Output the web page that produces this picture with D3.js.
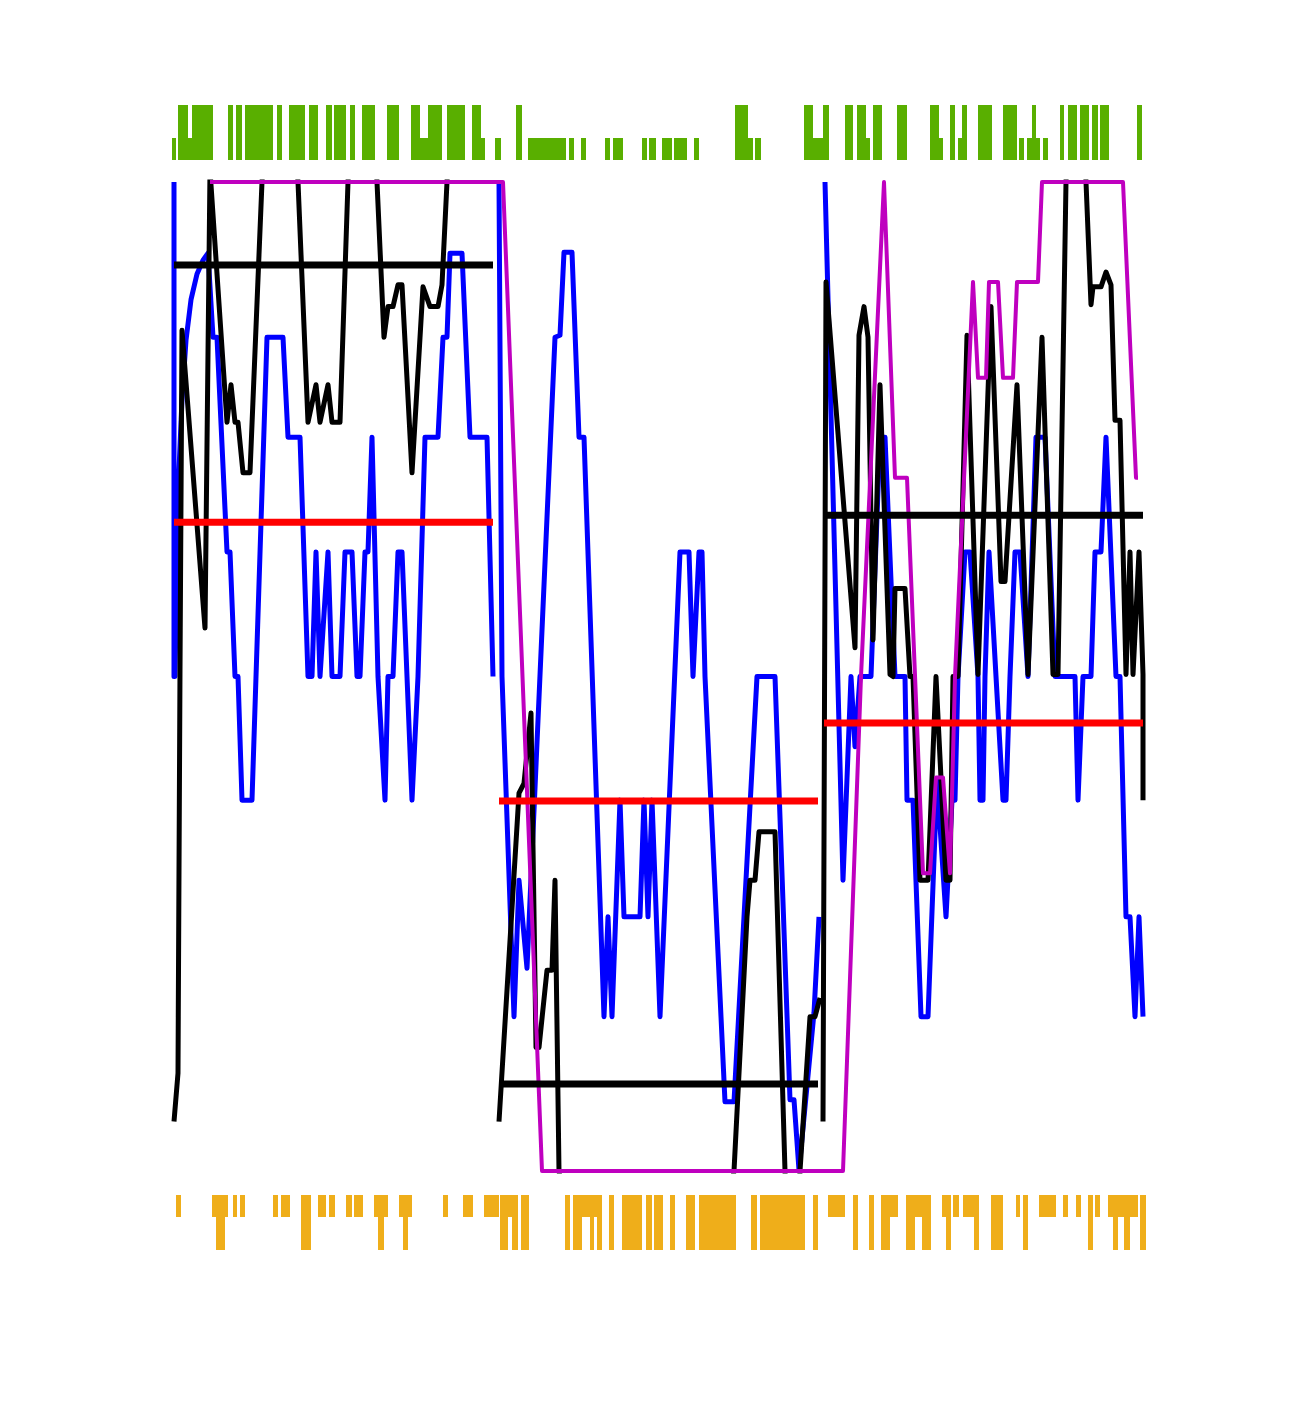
<!DOCTYPE html>
<html><head><meta charset="utf-8">
<script src="https://cdn.jsdelivr.net/npm/d3@7"></script>
<style>html,body{margin:0;padding:0;background:#fff;}</style>
</head><body>
<script>
// time (x) units along the record; y values in percent
const blueSeg1 = [[0,100],[0,50],[1,50],[3,61.8],[5,70.9],[8,78.0],[12,84.0],[17,88.1],[23,90.7],[29,92.1],[34,92.8],[39,84.3],[43,84.3],[53,62.6],[56,62.6],[61,50],[64,50],[68,37.5],[78,37.5],[93,84.3],[109,84.3],[114,74.2],[126,74.2],[134,50],[138,50],[142,62.6],[146,50],[154,62.6],[158,50],[166,50],[171,62.6],[178,62.6],[183,50],[186,50],[191,62.6],[194,62.6],[198,74.2],[204,50],[211,37.5],[214,50],[219,50],[224,62.6],[228,62.6],[233,50],[238,37.5],[244,50],[251,74.2],[264,74.2],[269,84.3],[273,84.3],[276,92.8],[288,92.8],[296,74.2],[313,74.2],[319,50]];
const blueSeg2 = [[325,100],[328,50],[340,15.6],[345,29.4],[353,20.5],[381,84.3],[386,84.5],[390,92.9],[398,92.9],[405,74.2],[410,74.2],[430,15.6],[434,25.7],[438,15.6],[446,37.5],[450,25.7],[466,25.7],[470,37.5],[474,25.7],[478,37.5],[486,15.6],[506,62.6],[515,62.6],[519,50],[525,62.6],[528,62.6],[531,50],[551,7.0],[560,7.0],[583,50],[601,50],[616,7.2],[620,7.2],[625,0.1],[640,16.0],[645,25.7]];
const blueSeg3 = [[651,100],[669,29.4],[677,50],[681,42.9],[686,50],[697,50],[706,74.2],[711,74.2],[721,50],[731,50],[733,37.5],[739,37.5],[747,15.6],[754,15.6],[763,39.5],[772,25.7],[778,37.5],[781,37.5],[784,50],[791,62.6],[796,62.6],[804,50],[806,37.5],[809,37.5],[811,50],[815,62.6],[822,50],[829,37.5],[832,37.5],[836,50],[841,62.6],[846,62.6],[854,50],[862,74.2],[871,74.2],[881,50],[901,50],[904,37.5],[909,50],[917,50],[921,62.6],[927,62.6],[932,74.2],[942,50],[946,50],[952,25.7],[956,25.7],[961,15.6],[965,25.7],[969,15.6]];

const blackSeg1 = [[0,5.0],[4,9.9],[6,50.7],[8,85.0],[31,54.9],[36,101.2],[53,75.7],[57,79.5],[61,75.7],[64,75.7],[69,70.6],[76,70.6],[88,100],[106,130],[124,100],[134,75.7],[142,79.5],[146,75.7],[154,79.5],[158,75.7],[166,75.7],[174,100],[188,130],[203,100],[210,84.3],[214,87.4],[219,87.4],[224,89.6],[228,89.6],[238,70.6],[249,89.4],[256,87.4],[264,87.4],[268,89.6],[273,100],[286,130]];
const blackSeg2 = [[325,5.0],[345,38.2],[350,39.2],[357,46.3],[362,12.5],[365,12.5],[373,20.3],[378,20.3],[381,29.4],[385,0],[470,-60],[560,0],[573,25.7],[576,29.4],[581,29.4],[585,34.3],[601,34.3],[611,0],[618,-20],[626,0],[636,15.6],[641,15.6],[646,17.5]];
const blackSeg3 = [[649,5.0],[652,89.9],[681,52.9],[685,84.5],[690,87.4],[694,84.3],[699,53.7],[706,79.5],[716,50.2],[719,50],[721,58.9],[731,58.9],[736,50],[739,50],[746,29.4],[754,29.4],[762,50],[772,29.4],[776,29.4],[779,50],[784,50],[793,84.5],[804,50.2],[817,87.4],[827,59.6],[831,59.6],[843,79.5],[854,50.2],[868,84.3],[879,50.2],[884,50.2],[892,100],[902,130],[912,100],[917,87.6],[919,89.4],[927,89.4],[932,90.9],[937,89.6],[941,75.9],[946,75.9],[952,50.2],[956,62.6],[959,50.2],[965,62.6],[969,50.2],[969,37.5]];

const magentaLine = [[36,100],[329,100],[368,0],[669,0],[687,50],[710,100],[721,70.1],[733,70.1],[749,30.1],[756,30.1],[762,39.8],[769,39.8],[776,30.1],[781,50],[799,89.9],[804,80.2],[812,80.2],[815,89.9],[824,89.9],[829,80.2],[839,80.2],[843,89.9],[864,89.9],[868,100],[949,100],[962,70.1],[964,70.1]];

// per-segment reference levels: [start, end, value]
const redLevels = [[0,319,65.6],[325,644,37.4],[650,969,45.3]];
const blackLevels = [[0,319,91.6],[325,644,8.8],[650,969,66.3]];

// event rugs: [start, end, level] (2 = partial, 5 = full)
const greenRug = [[-2,2,2],[4,14,5],[14,18,2],[18,39,5],[54,59,5],[62,68,5],[71,99,5],[103,108,5],[115,131,5],[135,144,5],[152,158,5],[160,172,5],[176,181,5],[188,201,5],[213,225,5],[237,246,5],[246,254,2],[254,268,5],[273,291,5],[298,307,5],[307,311,2],[321,327,2],[342,348,5],[354,392,2],[395,400,2],[407,412,2],[431,436,2],[439,449,2],[468,473,2],[475,482,2],[488,498,2],[500,513,2],[520,525,2],[561,574,5],[574,579,2],[581,587,2],[630,639,5],[639,649,2],[649,655,5],[671,679,5],[683,692,5],[692,696,2],[699,708,5],[723,733,5],[756,765,5],[765,769,2],[776,781,5],[784,788,2],[788,793,5],[804,818,5],[829,843,5],[845,850,2],[853,858,2],[858,862,5],[862,866,2],[869,874,2],[886,890,5],[894,903,5],[906,915,5],[918,924,5],[926,935,5],[963,968,5]];
const orangeRug = [[2,7,2],[38,42,2],[42,51,5],[51,54,2],[59,63,2],[66,71,2],[99,104,2],[107,116,2],[127,137,5],[144,152,2],[155,161,2],[172,178,2],[180,189,2],[200,204,2],[204,210,5],[210,214,2],[225,229,2],[229,234,5],[234,238,2],[269,274,2],[289,299,2],[310,325,2],[326,334,5],[334,338,2],[338,344,5],[347,355,5],[391,396,5],[399,408,5],[408,416,2],[416,420,5],[420,423,2],[423,428,5],[435,440,5],[448,468,5],[472,478,5],[480,489,5],[496,501,5],[512,521,5],[525,562,5],[577,583,5],[586,631,5],[639,644,5],[654,671,2],[679,684,5],[695,700,5],[707,716,5],[716,724,2],[732,741,5],[741,748,2],[748,757,5],[768,772,2],[772,777,5],[779,785,2],[789,800,2],[800,805,5],[817,829,5],[842,846,2],[849,854,5],[865,882,2],[889,894,2],[902,907,2],[914,919,5],[921,926,2],[934,939,2],[939,944,5],[944,950,2],[950,956,5],[956,964,2],[966,972,5]];

const W = 1308, H = 1403;
const x = d3.scaleLinear().domain([0, 969]).range([174, 1143]);
const y = d3.scaleLinear().domain([0, 100]).range([1171, 182]);
const rugH = d3.scaleLinear().domain([0, 5]).range([0, 55]);

const svg = d3.select("body").append("svg").attr("width", W).attr("height", H)
  .style("display","block").style("background","#fff");

svg.append("defs").append("clipPath").attr("id","plotclip")
  .append("rect").attr("x", 150).attr("y", y(100) - 2.5).attr("width", 1010).attr("height", y(0) - y(100) + 5);

const line = d3.line().x(d => x(d[0])).y(d => y(d[1]));
const g = svg.append("g").attr("clip-path","url(#plotclip)");

function drawLine(data, color, width){
  g.append("path").datum(data).attr("d", line)
    .attr("fill","none").attr("stroke",color).attr("stroke-width",width)
    .attr("stroke-linejoin","round").attr("stroke-linecap","butt");
}
[blueSeg1, blueSeg2, blueSeg3].forEach(s => drawLine(s, "#0000ff", 5));
[blackSeg1, blackSeg2, blackSeg3].forEach(s => drawLine(s, "#000000", 5));
drawLine(magentaLine, "#bf00bf", 4);

g.selectAll("line.red").data(redLevels).join("line").attr("class","red")
  .attr("x1", d => x(d[0])).attr("x2", d => x(d[1]))
  .attr("y1", d => y(d[2])).attr("y2", d => y(d[2]))
  .attr("stroke","#ff0000").attr("stroke-width",7);
g.selectAll("line.blk").data(blackLevels).join("line").attr("class","blk")
  .attr("x1", d => x(d[0])).attr("x2", d => x(d[1]))
  .attr("y1", d => y(d[2])).attr("y2", d => y(d[2]))
  .attr("stroke","#000000").attr("stroke-width",7);

// rugs
const greenBase = 160, orangeBase = 1195;
svg.append("g").selectAll("rect").data(greenRug).join("rect")
  .attr("x", d => x(d[0])).attr("width", d => x(d[1]) - x(d[0]))
  .attr("y", d => greenBase - rugH(d[2])).attr("height", d => rugH(d[2]))
  .attr("fill","#59af00");
svg.append("g").selectAll("rect").data(orangeRug).join("rect")
  .attr("x", d => x(d[0])).attr("width", d => x(d[1]) - x(d[0]))
  .attr("y", orangeBase).attr("height", d => rugH(d[2]))
  .attr("fill","#efae1a");
</script>
</body></html>
